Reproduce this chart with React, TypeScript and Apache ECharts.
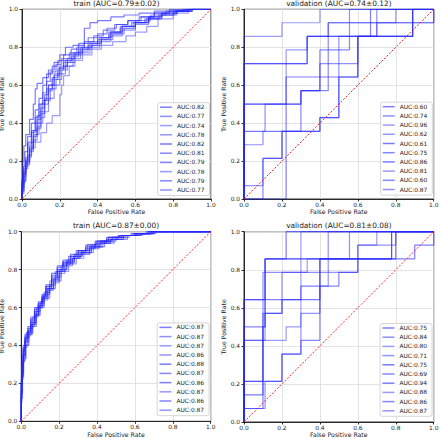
import React, { useEffect, useRef } from "react";
import * as echarts from "echarts";

// ---------- data ----------
const panelTitles = [
  "train (AUC=0.79±0.02)",
  "validation (AUC=0.74±0.12)",
  "train (AUC=0.87±0.00)",
  "validation (AUC=0.81±0.08)",
];

const trainTopAuc = ["0.82", "0.77", "0.74", "0.78", "0.82", "0.81", "0.79", "0.78", "0.79", "0.77"];
const valTopAuc = ["0.60", "0.74", "0.96", "0.62", "0.61", "0.75", "0.86", "0.81", "0.60", "0.87"];
const trainBottomAuc = ["0.87", "0.87", "0.87", "0.86", "0.88", "0.87", "0.86", "0.87", "0.86", "0.87"];
const valBottomAuc = ["0.75", "0.84", "0.80", "0.71", "0.75", "0.69", "0.94", "0.88", "0.86", "0.87"];

const trainTopCurves = [
  [[0,0],[0.005,0.08],[0.015,0.17],[0.03,0.25],[0.05,0.33],[0.07,0.4],[0.09,0.47],[0.11,0.53],[0.13,0.6],[0.16,0.66],[0.19,0.7],[0.22,0.73],[0.26,0.76],[0.3,0.79],[0.35,0.82],[0.4,0.85],[0.45,0.87],[0.5,0.9],[0.56,0.92],[0.62,0.94],[0.7,0.96],[0.78,0.98],[0.86,0.99],[0.94,1],[1,1]],
  [[0,0],[0.01,0.06],[0.02,0.15],[0.04,0.2],[0.06,0.27],[0.08,0.33],[0.1,0.38],[0.12,0.45],[0.15,0.52],[0.18,0.58],[0.21,0.63],[0.24,0.68],[0.28,0.72],[0.32,0.76],[0.37,0.79],[0.42,0.81],[0.48,0.84],[0.54,0.87],[0.6,0.9],[0.67,0.93],[0.74,0.96],[0.82,0.98],[0.9,0.99],[0.97,1],[1,1]],
  [[0,0],[0.01,0.1],[0.03,0.17],[0.05,0.22],[0.07,0.27],[0.1,0.3],[0.13,0.35],[0.16,0.4],[0.2,0.44],[0.21,0.55],[0.22,0.6],[0.25,0.65],[0.28,0.7],[0.32,0.73],[0.37,0.76],[0.42,0.79],[0.48,0.81],[0.55,0.83],[0.6,0.86],[0.66,0.88],[0.72,0.91],[0.8,0.95],[0.88,0.98],[0.95,1],[1,1]],
  [[0,0],[0.01,0.05],[0.02,0.12],[0.04,0.18],[0.06,0.25],[0.08,0.34],[0.1,0.42],[0.12,0.48],[0.14,0.53],[0.17,0.6],[0.2,0.65],[0.23,0.69],[0.27,0.73],[0.31,0.77],[0.36,0.8],[0.41,0.83],[0.47,0.85],[0.53,0.88],[0.6,0.91],[0.68,0.94],[0.76,0.97],[0.85,0.99],[0.92,1],[1,1]],
  [[0,0],[0.005,0.1],[0.01,0.2],[0.02,0.28],[0.04,0.34],[0.06,0.42],[0.07,0.5],[0.08,0.58],[0.11,0.61],[0.14,0.64],[0.17,0.68],[0.2,0.72],[0.23,0.76],[0.27,0.8],[0.33,0.81],[0.36,0.9],[0.4,0.93],[0.47,0.94],[0.54,0.96],[0.62,0.97],[0.7,0.98],[0.78,0.99],[0.88,1],[1,1]],
  [[0,0],[0.01,0.08],[0.02,0.16],[0.03,0.22],[0.05,0.3],[0.07,0.36],[0.09,0.43],[0.11,0.5],[0.13,0.56],[0.15,0.62],[0.18,0.67],[0.21,0.71],[0.25,0.74],[0.29,0.77],[0.33,0.8],[0.38,0.83],[0.43,0.86],[0.49,0.89],[0.56,0.92],[0.63,0.94],[0.7,0.96],[0.78,0.98],[0.87,0.99],[0.95,1],[1,1]],
  [[0,0],[0.01,0.04],[0.02,0.1],[0.04,0.19],[0.06,0.28],[0.08,0.36],[0.1,0.44],[0.12,0.5],[0.14,0.55],[0.17,0.6],[0.2,0.66],[0.24,0.7],[0.28,0.74],[0.32,0.77],[0.37,0.8],[0.42,0.82],[0.47,0.85],[0.53,0.88],[0.6,0.91],[0.67,0.93],[0.74,0.96],[0.82,0.98],[0.9,0.99],[0.96,1],[1,1]],
  [[0,0],[0.01,0.09],[0.02,0.14],[0.04,0.21],[0.06,0.26],[0.08,0.31],[0.1,0.37],[0.12,0.43],[0.14,0.5],[0.16,0.57],[0.19,0.63],[0.22,0.68],[0.26,0.72],[0.3,0.75],[0.35,0.78],[0.4,0.81],[0.46,0.84],[0.52,0.87],[0.59,0.9],[0.66,0.93],[0.73,0.95],[0.81,0.97],[0.89,0.99],[0.96,1],[1,1]],
  [[0,0],[0.005,0.06],[0.02,0.13],[0.03,0.2],[0.05,0.29],[0.07,0.35],[0.09,0.4],[0.11,0.46],[0.13,0.52],[0.16,0.58],[0.19,0.64],[0.22,0.69],[0.26,0.73],[0.3,0.76],[0.35,0.79],[0.4,0.82],[0.46,0.85],[0.52,0.88],[0.58,0.91],[0.65,0.93],[0.72,0.95],[0.8,0.97],[0.88,0.99],[0.95,1],[1,1]],
  [[0,0],[0.01,0.03],[0.02,0.09],[0.03,0.16],[0.05,0.23],[0.07,0.3],[0.09,0.34],[0.11,0.4],[0.14,0.46],[0.17,0.53],[0.2,0.6],[0.23,0.66],[0.27,0.7],[0.31,0.74],[0.36,0.77],[0.41,0.8],[0.47,0.83],[0.53,0.86],[0.6,0.89],[0.67,0.92],[0.74,0.95],[0.82,0.97],[0.9,0.99],[0.97,1],[1,1]],
];

const valTopCurves = [
  [[0,0],[0.222,0],[0.6,0.643],[0.889,0.857],[1,1]],
  [[0,0],[0.1,0.286],[0.111,0.357],[0.3,0.5],[0.4,0.571],[0.6,0.714],[0.7,0.857],[1,1]],
  [[0,0],[0.2,0.857],[0.4,0.929],[1,1]],
  [[0,0],[0.1,0.071],[0.2,0.214],[0.4,0.357],[0.5,0.429],[0.556,0.857],[1,0.929],[1,1]],
  [[0,0],[0.4,0.357],[0.5,0.429],[0.6,0.643],[0.889,0.857],[1,1]],
  [[0,0],[0.3,0.5],[0.444,0.571],[1,0.929],[1,1]],
  [[0,0],[0.333,0.714],[0.667,0.857],[1,1]],
  [[0,0],[0.222,0.5],[0.333,0.786],[0.7,0.857],[0.8,0.929],[1,1]],
  [[0,0],[0.1,0],[0.2,0.214],[0.3,0.357],[0.4,0.571],[0.556,0.786],[0.889,0.857],[1,1]],
  [[0,0],[0.333,0.714],[0.444,0.857],[0.556,0.929],[1,1]],
];

const trainBottomCurves = [
  [[0,0],[0.003,0.12],[0.01,0.25],[0.02,0.35],[0.03,0.42],[0.05,0.47],[0.07,0.52],[0.09,0.57],[0.11,0.61],[0.13,0.65],[0.16,0.7],[0.19,0.75],[0.22,0.79],[0.26,0.83],[0.3,0.86],[0.34,0.89],[0.39,0.91],[0.45,0.94],[0.51,0.96],[0.58,0.98],[0.66,0.99],[0.74,1],[1,1]],
  [[0,0],[0.005,0.2],[0.01,0.3],[0.02,0.37],[0.04,0.44],[0.06,0.49],[0.08,0.55],[0.1,0.6],[0.12,0.63],[0.15,0.68],[0.18,0.74],[0.21,0.79],[0.24,0.82],[0.28,0.85],[0.32,0.88],[0.37,0.9],[0.42,0.93],[0.48,0.95],[0.55,0.97],[0.62,0.98],[0.7,0.99],[0.77,1],[1,1]],
  [[0,0],[0.004,0.1],[0.008,0.22],[0.015,0.31],[0.03,0.39],[0.05,0.45],[0.07,0.5],[0.09,0.55],[0.11,0.6],[0.14,0.64],[0.17,0.69],[0.2,0.73],[0.23,0.78],[0.27,0.82],[0.31,0.86],[0.36,0.89],[0.41,0.92],[0.47,0.94],[0.53,0.96],[0.6,0.98],[0.68,0.99],[0.75,1],[1,1]],
  [[0,0],[0.006,0.15],[0.012,0.27],[0.025,0.33],[0.04,0.4],[0.06,0.46],[0.08,0.5],[0.1,0.56],[0.12,0.6],[0.15,0.65],[0.18,0.7],[0.21,0.74],[0.25,0.79],[0.29,0.83],[0.33,0.86],[0.38,0.89],[0.44,0.92],[0.5,0.95],[0.57,0.97],[0.64,0.98],[0.71,0.99],[0.76,1],[1,1]],
  [[0,0],[0.003,0.18],[0.01,0.29],[0.02,0.38],[0.035,0.45],[0.05,0.5],[0.07,0.54],[0.09,0.6],[0.11,0.63],[0.13,0.67],[0.16,0.72],[0.19,0.78],[0.22,0.82],[0.26,0.85],[0.3,0.88],[0.35,0.9],[0.4,0.93],[0.46,0.95],[0.52,0.97],[0.6,0.98],[0.68,0.99],[0.74,1],[1,1]],
  [[0,0],[0.005,0.14],[0.01,0.24],[0.02,0.32],[0.035,0.4],[0.055,0.46],[0.075,0.51],[0.095,0.56],[0.12,0.61],[0.14,0.66],[0.17,0.7],[0.2,0.74],[0.24,0.8],[0.28,0.84],[0.32,0.87],[0.37,0.89],[0.43,0.92],[0.49,0.94],[0.56,0.96],[0.63,0.98],[0.7,0.99],[0.78,1],[1,1]],
  [[0,0],[0.004,0.2],[0.01,0.31],[0.02,0.4],[0.035,0.46],[0.05,0.48],[0.07,0.53],[0.09,0.58],[0.11,0.62],[0.13,0.66],[0.16,0.71],[0.19,0.76],[0.22,0.8],[0.25,0.84],[0.29,0.87],[0.34,0.9],[0.39,0.92],[0.45,0.95],[0.52,0.97],[0.59,0.98],[0.67,0.99],[0.75,1],[1,1]],
  [[0,0],[0.006,0.12],[0.012,0.23],[0.022,0.34],[0.04,0.42],[0.06,0.47],[0.08,0.52],[0.1,0.58],[0.12,0.62],[0.15,0.67],[0.18,0.72],[0.21,0.76],[0.24,0.8],[0.28,0.84],[0.32,0.87],[0.36,0.9],[0.42,0.92],[0.48,0.95],[0.54,0.97],[0.61,0.98],[0.69,0.99],[0.76,1],[1,1]],
  [[0,0],[0.004,0.16],[0.01,0.26],[0.02,0.35],[0.03,0.43],[0.05,0.47],[0.07,0.51],[0.09,0.56],[0.11,0.6],[0.14,0.65],[0.17,0.7],[0.2,0.75],[0.23,0.79],[0.27,0.83],[0.31,0.86],[0.36,0.88],[0.41,0.91],[0.47,0.94],[0.54,0.96],[0.61,0.98],[0.69,0.99],[0.77,1],[1,1]],
  [[0,0],[0.005,0.22],[0.01,0.32],[0.02,0.39],[0.035,0.44],[0.05,0.49],[0.07,0.55],[0.09,0.59],[0.11,0.62],[0.13,0.66],[0.16,0.71],[0.19,0.77],[0.22,0.81],[0.26,0.84],[0.3,0.87],[0.34,0.9],[0.4,0.93],[0.46,0.95],[0.53,0.97],[0.6,0.98],[0.67,0.99],[0.74,1],[1,1]],
];

const valBottomCurves = [
  [[0,0],[0.1,0.071],[0.111,0.571],[0.3,0.643],[0.4,0.714],[0.5,0.857],[0.9,0.857],[1,0.929],[1,1]],
  [[0,0],[0.111,0.643],[0.444,0.786],[0.556,0.857],[1,1]],
  [[0,0],[0.222,0.429],[0.3,0.5],[0.333,0.786],[0.6,0.857],[0.7,0.929],[1,1]],
  [[0,0],[0.111,0.071],[0.2,0.214],[0.3,0.357],[0.4,0.571],[0.444,0.714],[0.6,0.786],[0.8,0.929],[1,1]],
  [[0,0],[0.1,0.143],[0.111,0.5],[0.2,0.571],[0.4,0.643],[0.6,0.857],[0.8,0.857],[1,1]],
  [[0,0],[0.2,0.214],[0.3,0.357],[0.4,0.429],[0.5,0.714],[0.6,0.786],[0.778,0.857],[1,1]],
  [[0,0],[0.111,0.643],[0.222,0.857],[1,1]],
  [[0,0],[0.111,0.429],[0.2,0.571],[0.3,0.786],[0.333,1],[1,1]],
  [[0,0],[0.111,0.5],[0.4,0.857],[0.778,0.857],[1,1]],
  [[0,0],[0.1,0.214],[0.111,0.786],[0.444,0.857],[0.444,1],[1,1]],
];

const diagonal = [[0, 0], [1, 1]];

// ---------- layout & style ----------
const FONT = "DejaVu Sans";
const layouts = [
  { left: 22, top: 9.3, width: 189, height: 189.7, legendRight: 230.5, legendBottom: 242.5 },
  { left: 244, top: 9.3, width: 189.7, height: 189.7, legendRight: 7.7, legendBottom: 243 },
  { left: 21.3, top: 231.7, width: 189.4, height: 189.6, legendRight: 231, legendBottom: 22.3 },
  { left: 244, top: 231.7, width: 189.7, height: 190.3, legendRight: 8, legendBottom: 21.7 },
];
const lineAlphas = [0.6, 0.52, 0.46, 0.5, 0.62, 0.56, 0.6, 0.48, 0.56, 0.5];

const panelCurves = [trainTopCurves, valTopCurves, trainBottomCurves, valBottomCurves];
const panelAucs = [trainTopAuc, valTopAuc, trainBottomAuc, valBottomAuc];

export default function App() {
  const ref = useRef<HTMLDivElement>(null);

  useEffect(() => {
    if (!ref.current) return;
    const chart = echarts.init(ref.current, null, { renderer: "svg" });

    const labelMap: Record<string, string> = {};
    const series: any[] = [];
    const legendNames: string[][] = [];

    panelCurves.forEach((curves, p) => {
      const names: string[] = [];
      curves.forEach((curve, c) => {
        const name = `p${p}c${c}`;
        labelMap[name] = `AUC:${panelAucs[p][c]}`;
        names.push(name);
        const col = `rgba(40,40,255,${lineAlphas[c]})`;
        series.push({
          type: "line",
          name,
          xAxisIndex: p,
          yAxisIndex: p,
          data: curve,
          step: "start",
          symbol: "none",
          showSymbol: false,
          silent: true,
          z: 2,
          color: col,
          lineStyle: { color: col, width: 1.2 },
          itemStyle: { color: col },
        });
      });
      legendNames.push(names);
      series.push({
        type: "line",
        name: `diag${p}`,
        xAxisIndex: p,
        yAxisIndex: p,
        data: diagonal,
        symbol: "none",
        showSymbol: false,
        silent: true,
        z: 3,
        lineStyle: { color: "rgba(255,0,0,0.85)", width: 1, type: [2, 1.6] },
      });
    });

    const axisCommon = {
      type: "value",
      min: 0,
      max: 1,
      interval: 0.2,
      nameLocation: "middle",
      nameTextStyle: { fontSize: 6.2, color: "#222", fontFamily: FONT },
      axisLine: { show: true, lineStyle: { color: "#000", width: 0.8 } },
      axisTick: { show: true, length: 2.5, lineStyle: { color: "#000", width: 0.8 } },
      axisLabel: {
        fontSize: 5.9,
        color: "#222",
        fontFamily: FONT,
        formatter: (v: number) => v.toFixed(1),
      },
      splitLine: { show: true, lineStyle: { color: "#dcdcdc", width: 0.8 } },
    };

    const option: any = {
      animation: false,
      backgroundColor: "#ffffff",
      grid: layouts.map((l) => ({
        left: l.left,
        top: l.top,
        width: l.width,
        height: l.height,
        show: true,
        borderColor: "#000",
        borderWidth: 0.8,
        backgroundColor: "transparent",
        containLabel: false,
        outerBoundsMode: "none",
      })),
      xAxis: layouts.map((_, i) => ({
        ...axisCommon,
        gridIndex: i,
        name: "False Positive Rate",
        nameGap: 9.5,
        axisLabel: { ...axisCommon.axisLabel, margin: 3 },
      })),
      yAxis: layouts.map((_, i) => ({
        ...axisCommon,
        gridIndex: i,
        name: "True Positive Rate",
        nameGap: 11.2,
        axisLabel: { ...axisCommon.axisLabel, margin: 4 },
      })),
      legend: layouts.map((l, p) => ({
        orient: "vertical",
        right: l.legendRight,
        bottom: l.legendBottom,
        data: legendNames[p],
        formatter: (n: string) => labelMap[n] || n,
        selectedMode: false,
        icon: "rect",
        itemWidth: 12,
        itemHeight: 1.5,
        itemGap: 2.2,
        padding: [1, 5, 2, 2.3],
        backgroundColor: "rgba(255,255,255,0.8)",
        borderColor: "#cccccc",
        borderWidth: 0.8,
        borderRadius: 2,
        textStyle: { fontSize: 5.9, color: "#222", fontFamily: FONT, lineHeight: 7 },
      })),
      graphic: layouts.map((l, p) => ({
        type: "text",
        x: l.left + l.width / 2,
        y: l.top - 5.8,
        silent: true,
        style: {
          text: panelTitles[p],
          align: "center",
          verticalAlign: "middle",
          textAlign: "center",
          textVerticalAlign: "middle",
          fontSize: 7.4,
          fontFamily: FONT,
          fill: "#222",
        },
      })),
      series,
    };

    chart.setOption(option);
    return () => chart.dispose();
  }, []);

  return (
    <div
      ref={ref}
      style={{ position: "fixed", left: 0, top: 0, width: 440, height: 438, background: "#fff" }}
    />
  );
}
